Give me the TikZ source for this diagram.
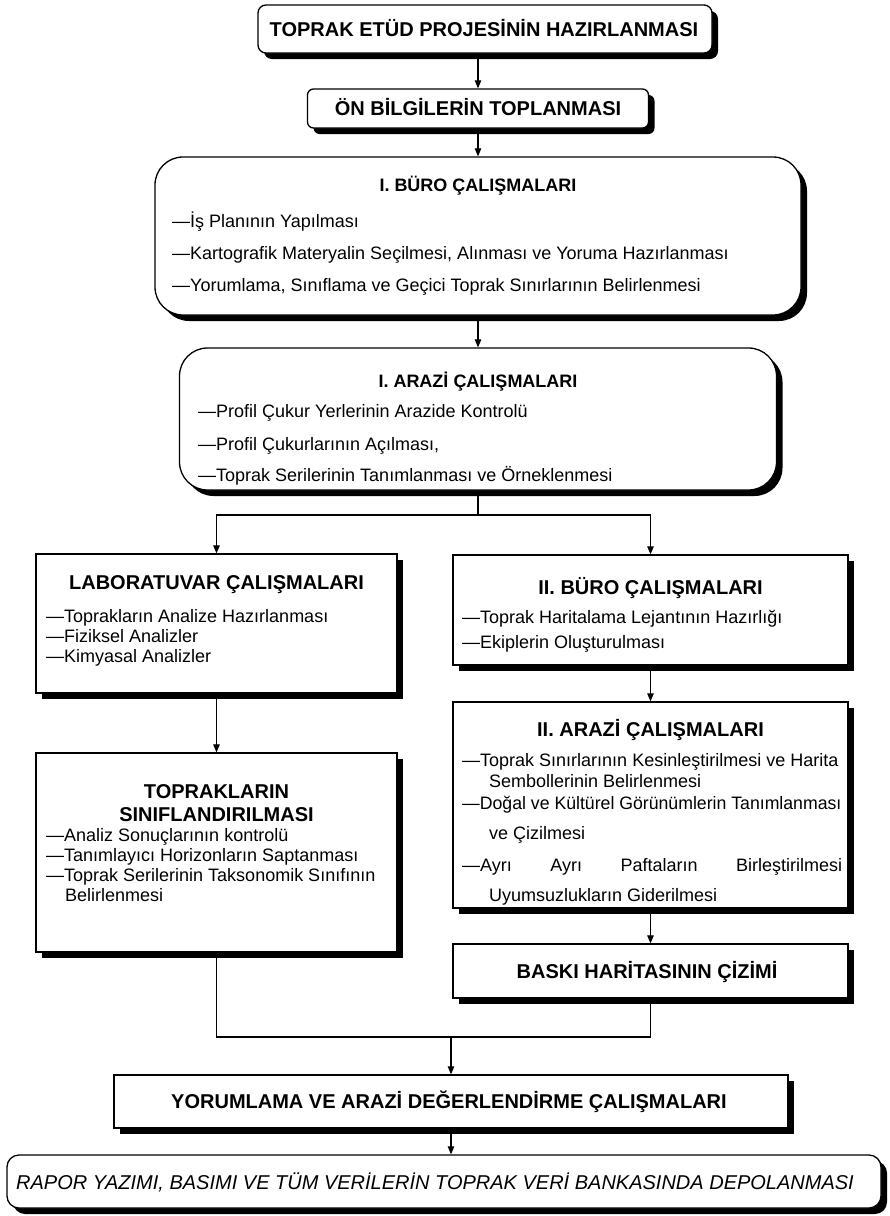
\documentclass[tikz,border=0pt]{standalone}
\usepackage{fontspec}
\setmainfont{Liberation Sans}
\usetikzlibrary{shadows,arrows.meta}
\begin{document}
\begin{tikzpicture}[x=1pt,y=-1pt,
  shad/.style={drop shadow={shadow xshift=6pt,shadow yshift=-6pt,fill=black,opacity=1}},
  box/.style={draw=black,line width=1.3pt,fill=white,shad,inner sep=0pt},
  line/.style={line width=1.1pt},
  arr/.style={line width=1.1pt,-{Triangle[length=8pt,width=6.5pt]}},
  itm/.style={anchor=west,inner sep=0pt,font=\fontsize{18}{21}\selectfont,text height=12pt,text depth=3pt},
  ttl/.style={inner sep=0pt,font=\bfseries\fontsize{20}{22}\selectfont,text height=14.5pt,text depth=0pt},
  sttl/.style={inner sep=0pt,font=\bfseries\fontsize{18}{21}\selectfont,text height=13pt,text depth=0pt}
]
\useasboundingbox (0,0) rectangle (890,1216);

% boxes
\node[box,rounded corners=8pt,minimum width=454pt,minimum height=48pt] (b1) at (485,29) {};
\node[box,rounded corners=6pt,minimum width=341pt,minimum height=39pt] (b2) at (478,108.5) {};
\node[box,rounded corners=28pt,minimum width=646pt,minimum height=158pt] (b3) at (478,236) {};
\node[box,rounded corners=28pt,minimum width=597pt,minimum height=142pt] (b4) at (478,419) {};
\node[box,minimum width=361pt,minimum height=139pt] (lab) at (216.5,623.5) {};
\node[box,minimum width=395pt,minimum height=110pt] (iib) at (650.5,610) {};
\node[box,minimum width=395pt,minimum height=206pt] (iia) at (650.5,805) {};
\node[box,minimum width=361pt,minimum height=199pt] (top) at (216.5,852.5) {};
\node[box,minimum width=395pt,minimum height=54pt] (bas) at (650.5,971) {};
\node[box,minimum width=674pt,minimum height=53pt] (yor) at (451,1101.5) {};
\node[box,rounded corners=12pt,minimum width=874pt,minimum height=53pt] (rap) at (444,1181.5) {};

% texts
\node[ttl] (t1) at (484,29) {TOPRAK ETÜD PROJESİNİN HAZIRLANMASI};
\node[ttl] (t2) at (478,108.5) {ÖN BİLGİLERİN TOPLANMASI};

\node[sttl] (t3) at (478,185) {I. BÜRO ÇALIŞMALARI};
\node[itm] (t3a) at (172,223) {—İş Planının Yapılması};
\node[itm] (t3b) at (172,255) {—Kartografik Materyalin Seçilmesi, Alınması ve Yoruma Hazırlanması};
\node[itm] (t3c) at (172,287) {—Yorumlama, Sınıflama ve Geçici Toprak Sınırlarının Belirlenmesi};

\node[sttl] (t4) at (478,381) {I. ARAZİ ÇALIŞMALARI};
\node[itm] (t4a) at (198,413) {—Profil Çukur Yerlerinin Arazide Kontrolü};
\node[itm] (t4b) at (198,446) {—Profil Çukurlarının Açılması,};
\node[itm] (t4c) at (198,477) {—Toprak Serilerinin Tanımlanması ve Örneklenmesi};

\node[ttl] (tl) at (216.5,582) {LABORATUVAR ÇALIŞMALARI};
\node[itm] (tla) at (46,618) {—Toprakların Analize Hazırlanması};
\node[itm] (tlb) at (46,638) {—Fiziksel Analizler};
\node[itm] (tlc) at (46,658) {—Kimyasal Analizler};

\node[ttl] (tb) at (650.5,587) {II. BÜRO ÇALIŞMALARI};
\node[itm] (tba) at (462,619) {—Toprak Haritalama Lejantının Hazırlığı};
\node[itm] (tbb) at (462,644) {—Ekiplerin Oluşturulması};

\node[ttl] (ta) at (650.5,729) {II. ARAZİ ÇALIŞMALARI};
\node[itm] (taa) at (462,762) {—Toprak Sınırlarının Kesinleştirilmesi ve Harita};
\node[itm] (tab) at (489,783) {Sembollerinin Belirlenmesi};
\node[itm] (tac) at (462,805) {\scalebox{0.982}[1]{—Doğal ve Kültürel Görünümlerin Tanımlanması}};
\node[itm] (tad) at (489,835) {ve Çizilmesi};
\node[itm] (tae) at (462,867) {\makebox[380pt][s]{—Ayrı Ayrı Paftaların Birleştirilmesi}};
\node[itm] (taf) at (489,897) {Uyumsuzlukların Giderilmesi};

\node[ttl] (tt1) at (216.5,791) {TOPRAKLARIN};
\node[ttl] (tt2) at (216.5,814) {SINIFLANDIRILMASI};
\node[itm] (tta) at (46,837) {—Analiz Sonuçlarının kontrolü};
\node[itm] (ttb) at (46,857) {—Tanımlayıcı Horizonların Saptanması};
\node[itm] (ttc) at (46,877) {—Toprak Serilerinin Taksonomik Sınıfının};
\node[itm] (ttd) at (65,897) {Belirlenmesi};

\node[ttl] (tbas) at (647,971) {BASKI HARİTASININ ÇİZİMİ};
\node[ttl] (tyor) at (449,1101.5) {YORUMLAMA VE ARAZİ DEĞERLENDİRME ÇALIŞMALARI};
\node[anchor=west,inner sep=0pt,font=\itshape\fontsize{20}{22}\selectfont,text height=14.5pt,text depth=0pt] (trap) at (16,1182) {RAPOR YAZIMI, BASIMI VE TÜM VERİLERİN TOPRAK VERİ BANKASINDA DEPOLANMASI};

% connectors
\coordinate (sp) at (478,515);
\coordinate (mg) at (451,1037);
\draw[arr] (b1.south -| b2.north) -- (b2.north);
\draw[arr] (b2.south) -- (b3.north);
\draw[arr] (b3.south) -- (b4.north);
\draw[line] (b4.south) -- (sp);
\draw[arr] (sp) -| (lab.north);
\draw[arr] (sp) -| (iib.north);
\draw[arr] (lab.south) -- (top.north);
\draw[arr] (iib.south) -- (iia.north);
\draw[arr] (iia.south) -- (bas.north);
\draw[line] (top.south) |- (mg) -| (bas.south);
\draw[arr] (mg) -- (yor.north);
\draw[arr] (yor.south) -- (rap.north -| yor.south);
\end{tikzpicture}
\end{document}
